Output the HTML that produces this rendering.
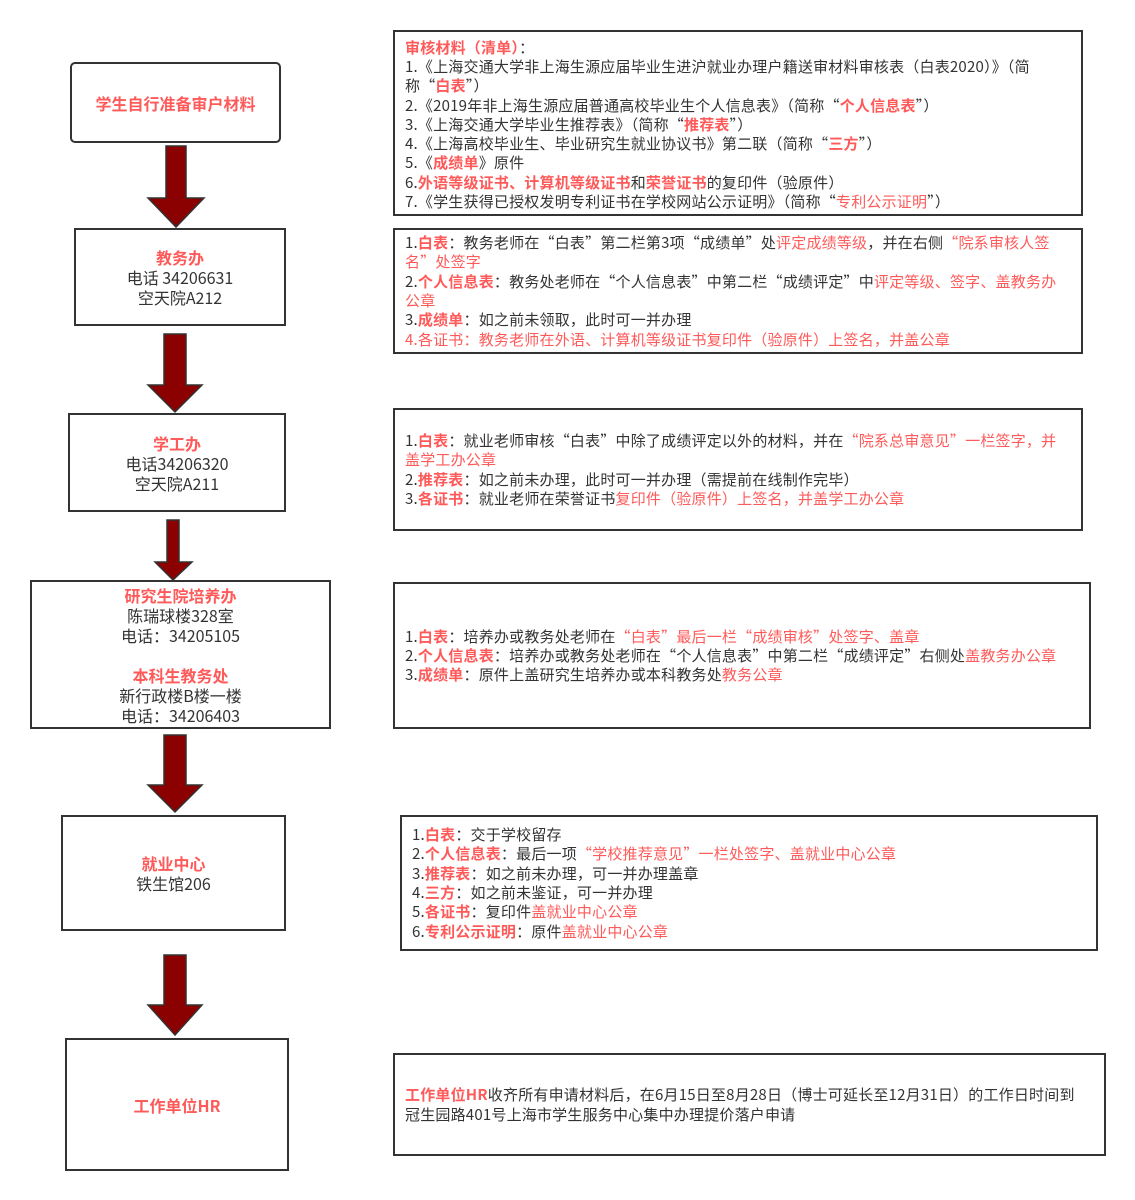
<!DOCTYPE html>
<html><head><meta charset="utf-8"><style>
body{margin:0;width:1135px;height:1200px;background:#fff;position:relative;font-family:"Noto Sans CJK SC","Liberation Sans",sans-serif;color:#333;overflow:hidden}
.b{position:absolute;border:2px solid #333;box-sizing:border-box;background:#fff}
.l{display:flex;flex-direction:column;justify-content:center;align-items:center;text-align:center;font-size:16px;line-height:20px}
.r{font-size:15px;line-height:19.3px;padding:0 20px 0 10px;display:flex;flex-direction:column;justify-content:center;letter-spacing:0.2px}
.k{color:#ff5a5a}
.kb{color:#ff5a5a;font-weight:bold}
</style></head><body>
<svg width="1135" height="1200" style="position:absolute;left:0;top:0">
<g fill="#8b0000" stroke="#333" stroke-width="1.5">
<polygon points="166,146 186,146 186,198 204,198 176,227 148,198 166,198"/>
<polygon points="164,334 186,334 186,385 202,385 175,412 148,385 164,385"/>
<polygon points="167,520 179,520 179,562 192,562 173,580 155,562 167,562"/>
<polygon points="164,735 186,735 186,785 202,785 175,812 148,785 164,785"/>
<polygon points="164,955 186,955 186,1005 202,1005 175,1035 148,1005 164,1005"/>
</g></svg>

<div class="b l" style="left:70px;top:62px;width:211px;height:81px;border-radius:5px"><span class="kb" style="font-size:16px">学生自行准备审户材料</span></div>
<div class="b l" style="left:74px;top:228px;width:212px;height:98px"><span class="kb">教务办</span>电话 34206631<br>空天院A212</div>
<div class="b l" style="left:68px;top:413px;width:218px;height:99px"><span class="kb">学工办</span>电话34206320<br>空天院A211</div>
<div class="b l" style="left:30px;top:580px;width:301px;height:149px"><span class="kb">研究生院培养办</span>陈瑞球楼328室<br>电话：34205105<br><br><span class="kb">本科生教务处</span>新行政楼B楼一楼<br>电话：34206403</div>
<div class="b l" style="left:61px;top:815px;width:225px;height:116px"><span class="kb">就业中心</span>铁生馆206</div>
<div class="b l" style="left:65px;top:1038px;width:224px;height:133px"><span class="kb">工作单位HR</span></div>

<div class="b r" style="left:393px;top:30px;width:690px;height:186px;padding-top:3px">
<div><span class="kb">审核材料（清单）</span>：</div>
<div>1.《上海交通大学非上海生源应届毕业生进沪就业办理户籍送审材料审核表（白表2020）》（简称“<span class="kb">白表</span>”）</div>
<div>2.《2019年非上海生源应届普通高校毕业生个人信息表》（简称“<span class="kb">个人信息表</span>”）</div>
<div>3.《上海交通大学毕业生推荐表》（简称“<span class="kb">推荐表</span>”）</div>
<div>4.《上海高校毕业生、毕业研究生就业协议书》第二联（简称“<span class="kb">三方</span>”）</div>
<div>5.《<span class="kb">成绩单</span>》原件</div>
<div>6.<span class="kb">外语等级证书、计算机等级证书</span>和<span class="kb">荣誉证书</span>的复印件（验原件）</div>
<div>7.《学生获得已授权发明专利证书在学校网站公示证明》（简称“<span class="k">专利公示证明</span>”）</div>
</div>
<div class="b r" style="left:393px;top:228px;width:690px;height:126px">
<div>1.<span class="kb">白表</span>：教务老师在“白表”第二栏第3项“成绩单”处<span class="k">评定成绩等级</span>，并在右侧<span class="k">“院系审核人签名”处签字</span></div>
<div>2.<span class="kb">个人信息表</span>：教务处老师在“个人信息表”中第二栏“成绩评定”中<span class="k">评定等级、签字、盖教务办公章</span></div>
<div>3.<span class="kb">成绩单</span>：如之前未领取，此时可一并办理</div>
<div class="k">4.各证书：教务老师在外语、计算机等级证书复印件（验原件）上签名，并盖公章</div>
</div>
<div class="b r" style="left:393px;top:408px;width:690px;height:123px">
<div>1.<span class="kb">白表</span>：就业老师审核“白表”中除了成绩评定以外的材料，并在<span class="k">“院系总审意见”一栏签字，并盖学工办公章</span></div>
<div>2.<span class="kb">推荐表</span>：如之前未办理，此时可一并办理（需提前在线制作完毕）</div>
<div>3.<span class="kb">各证书</span>：就业老师在荣誉证书<span class="k">复印件（验原件）上签名，并盖学工办公章</span></div>
</div>
<div class="b r" style="left:393px;top:582px;width:698px;height:147px">
<div>1.<span class="kb">白表</span>：培养办或教务处老师在<span class="k">“白表”最后一栏“成绩审核”处签字、盖章</span></div>
<div>2.<span class="kb">个人信息表</span>：培养办或教务处老师在“个人信息表”中第二栏“成绩评定”右侧处<span class="k">盖教务办公章</span></div>
<div>3.<span class="kb">成绩单</span>：原件上盖研究生培养办或本科教务处<span class="k">教务公章</span></div>
</div>
<div class="b r" style="left:400px;top:815px;width:698px;height:136px">
<div>1.<span class="kb">白表</span>：交于学校留存</div>
<div>2.<span class="kb">个人信息表</span>：最后一项<span class="k">“学校推荐意见”一栏处签字、盖就业中心公章</span></div>
<div>3.<span class="kb">推荐表</span>：如之前未办理，可一并办理盖章</div>
<div>4.<span class="kb">三方</span>：如之前未鉴证，可一并办理</div>
<div>5.<span class="kb">各证书</span>：复印件<span class="k">盖就业中心公章</span></div>
<div>6.<span class="kb">专利公示证明</span>：原件<span class="k">盖就业中心公章</span></div>
</div>
<div class="b r" style="left:393px;top:1053px;width:713px;height:103px">
<div><span class="kb">工作单位HR</span>收齐所有申请材料后，在6月15日至8月28日（博士可延长至12月31日）的工作日时间到冠生园路401号上海市学生服务中心集中办理提价落户申请</div>
</div>
</body></html>
